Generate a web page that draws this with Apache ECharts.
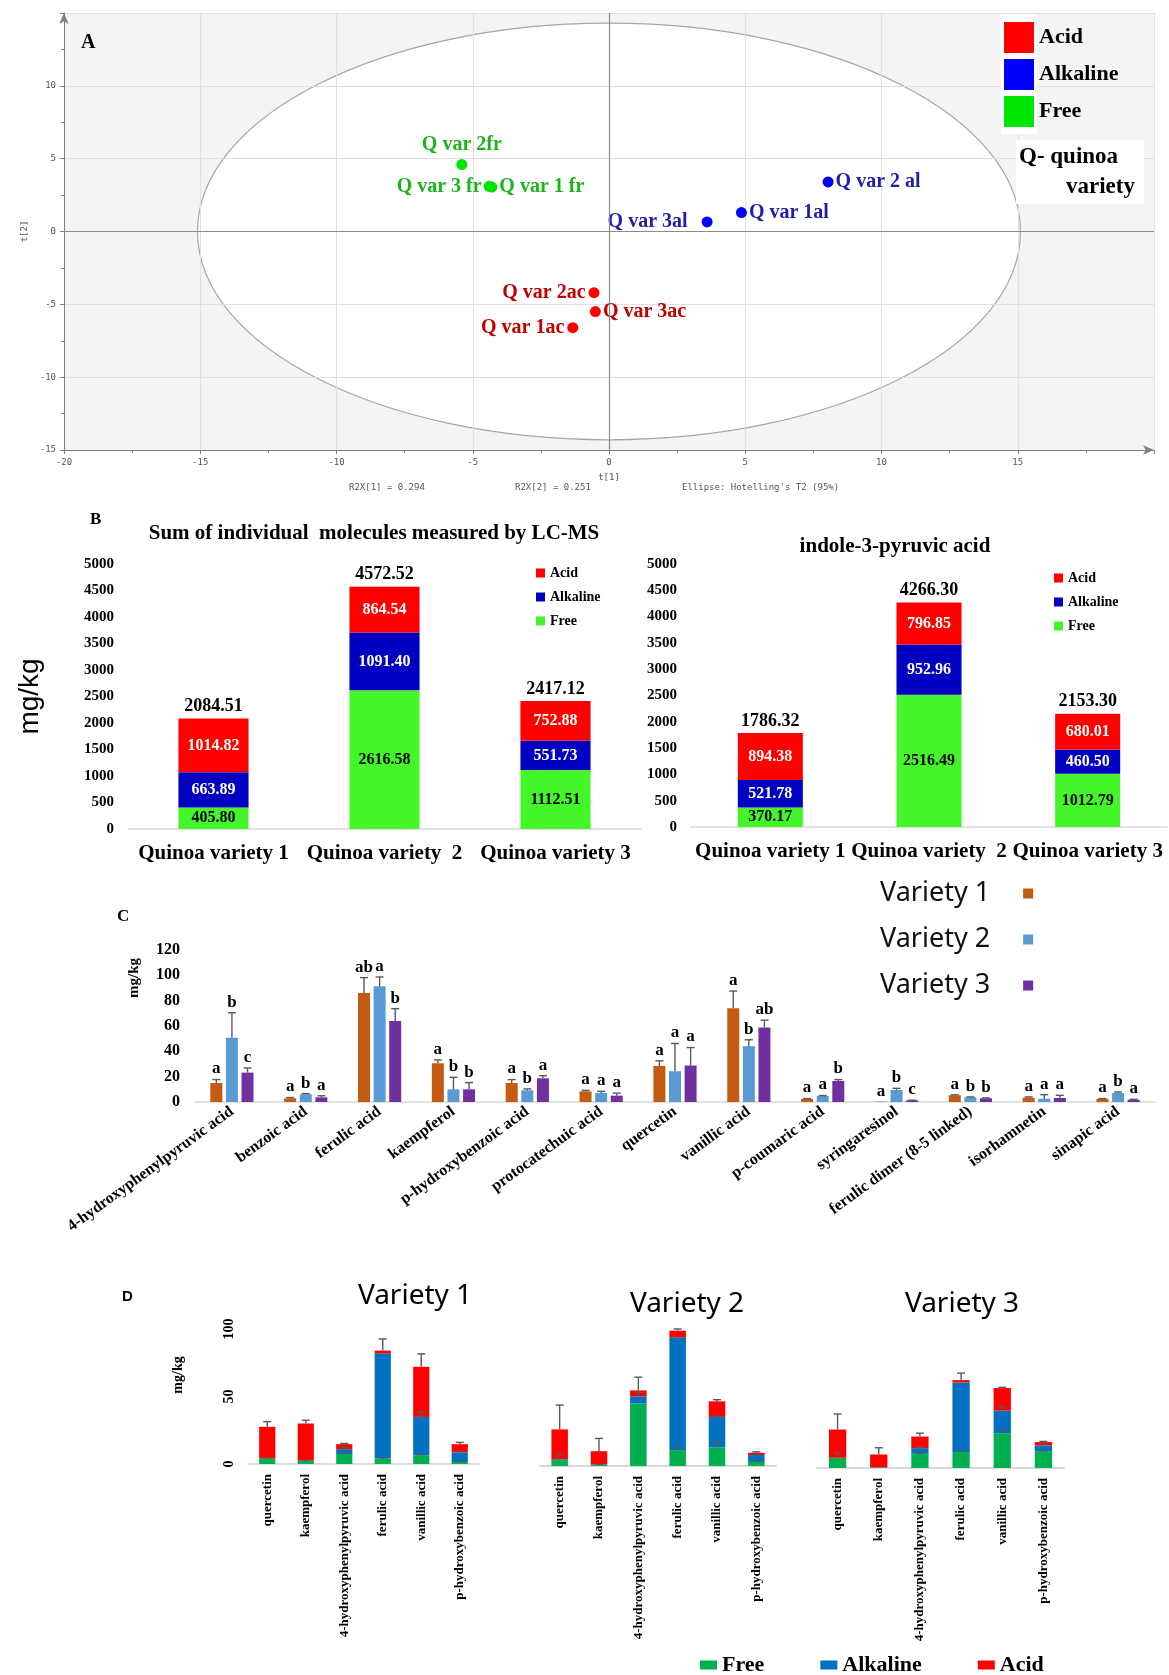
<!DOCTYPE html>
<html>
<head>
<meta charset="utf-8">
<title>Quinoa phenolics</title>
<script src="https://cdn.jsdelivr.net/npm/echarts@6/dist/echarts.min.js"></script>
<style>
  html, body { margin: 0; padding: 0; background: #fff; }
  #main { width: 1169px; height: 1675px; }
</style>
</head>
<body>
<div id="main"></div>
<script>
// ---- A: PCA scores ----
var pcaNames = ['Q var 1ac', 'Q var 2ac', 'Q var 3ac', 'Q var 1al', 'Q var 2 al', 'Q var 3al', 'Q var 1 fr', 'Q var 2fr', 'Q var 3 fr'];
var pcaGroup = ['Acid', 'Acid', 'Acid', 'Alkaline', 'Alkaline', 'Alkaline', 'Free', 'Free', 'Free'];
var pcaT1 = [-1.33, -0.55, -0.5, 4.86, 8.04, 3.6, -4.3, -5.4, -4.4];
var pcaT2 = [-6.6, -4.2, -5.5, 1.3, 3.4, 0.66, 3.05, 4.6, 3.1];
var ellipseRadii = [15.1, 14.3];

// ---- B: sums (mg/kg) ----
var varieties = ['Quinoa variety 1', 'Quinoa variety  2', 'Quinoa variety 3'];
var sumFree = [405.80, 2616.58, 1112.51];
var sumAlkaline = [663.89, 1091.40, 551.73];
var sumAcid = [1014.82, 864.54, 752.88];
var sumTotal = [2084.51, 4572.52, 2417.12];
var ipaFree = [370.17, 2516.49, 1012.79];
var ipaAlkaline = [521.78, 952.96, 460.50];
var ipaAcid = [894.38, 796.85, 680.01];
var ipaTotal = [1786.32, 4266.30, 2153.30];

// ---- C: individual compounds ----
var compounds = ['4-hydroxyphenylpyruvic acid', 'benzoic acid', 'ferulic acid', 'kaempferol', 'p-hydroxybenzoic acid',
  'protocatechuic acid', 'quercetin', 'vanillic acid', 'p-coumaric acid', 'syringaresinol',
  'ferulic dimer (8-5 linked)', 'isorhamnetin', 'sinapic acid'];
var v1Mean = [15.0, 2.9, 86.0, 30.6, 15.0, 8.4, 28.5, 74.1, 2.4, 0.3, 5.3, 3.4, 2.4];
var v1Err = [2.7, 0.6, 12.2, 2.6, 2.7, 0.8, 4.0, 13.5, 0.3, 0, 0.4, 0.6, 0.3];
var v1Letter = ['a', 'a', 'ab', 'a', 'a', 'a', 'a', 'a', 'a', 'a', 'a', 'a', 'a'];
var v2Mean = [50.7, 6.1, 91.3, 10.0, 9.2, 7.1, 24.3, 44.1, 4.7, 9.5, 3.7, 2.6, 7.1];
var v2Err = [19.8, 0.5, 7.4, 9.5, 1.1, 1.3, 21.9, 5.0, 0.4, 1.3, 0.3, 3.2, 0.8];
var v2Letter = ['b', 'b', 'a', 'b', 'b', 'a', 'a', 'b', 'a', 'b', 'b', 'a', 'b'];
var v3Mean = [23.2, 3.7, 63.9, 10.0, 18.7, 5.0, 28.8, 58.8, 16.6, 1.3, 2.9, 3.2, 1.8];
var v3Err = [3.7, 1.2, 9.8, 5.3, 2.1, 2.0, 14.2, 5.8, 1.1, 0.2, 0.4, 2.1, 0.3];
var v3Letter = ['c', 'a', 'b', 'b', 'a', 'a', 'a', 'ab', 'b', 'c', 'b', 'a', 'a'];

// ---- D: fractions per variety ----
var dCompounds = ['quercetin', 'kaempferol', '4-hydroxyphenylpyruvic acid', 'ferulic acid', 'vanillic acid', 'p-hydroxybenzoic acid'];
var d1Free = [4.0, 2.5, 7.4, 4.0, 6.4, 1.5];
var d1Alkaline = [0, 0, 3.6, 78.0, 28.5, 7.1];
var d1Acid = [23.5, 27.5, 3.7, 2.0, 37.1, 6.1];
var d1FreeErr = [0.5, 0.3, 0.5, 0.5, 0.5, 0.3];
var d1AlkalineErr = [0, 0, 1.0, 0, 3.7, 0.8];
var d1AcidErr = [3.9, 2.4, 0.5, 8.6, 9.6, 1.3];
var d2Free = [4.6, 1.0, 46.2, 11.8, 13.8, 3.0];
var d2Alkaline = [0.5, 0, 5.4, 83.5, 22.6, 5.1];
var d2Acid = [22.0, 10.0, 4.4, 4.9, 11.5, 1.7];
var d2FreeErr = [4.0, 0.3, 0, 3.0, 4.0, 0.5];
var d2AlkalineErr = [0, 0, 3.0, 0, 0.5, 0.3];
var d2AcidErr = [18.0, 9.4, 9.8, 1.3, 1.2, 0.7];
var d3Free = [7.6, 0.5, 10.6, 11.8, 25.8, 12.5];
var d3Alkaline = [0, 0, 4.1, 51.6, 16.7, 4.2];
var d3Acid = [20.9, 9.5, 8.6, 1.7, 16.7, 2.5];
var d3FreeErr = [3.4, 0, 0.5, 0.5, 3.0, 0.3];
var d3AlkalineErr = [0, 0, 0.5, 0, 3.0, 1.0];
var d3AcidErr = [11.5, 5.0, 2.5, 5.2, 0.5, 0.5];

var serif = '"Liberation Serif", "Times New Roman", serif';
var sans = '"Liberation Sans", Arial, sans-serif';
var calibri = '"Noto Sans", "Open Sans", sans-serif';
var mono = '"DejaVu Sans Mono", monospace';

// label side / gap for each PCA point (same order as pcaNames)
var pcaLabelSide = ['left', 'left', 'right', 'right', 'right', 'left', 'right', 'top', 'left'];
var pcaLabelGap = [3, 3, 2, 2, 2, 14, 2, 4, 2];
var pcaColors = { Acid: '#ff0000', Alkaline: '#0000ff', Free: '#00e600' };
var pcaTextColors = { Acid: '#c00000', Alkaline: '#1f1fa8', Free: '#1db31d' };

function legendName(name) {
  return name.split('|')[1];
}

function plainNumber(v) {
  return String(v);
}

function pcaSeries(group) {
  var data = [];
  for (var i = 0; i < pcaNames.length; i++) {
    if (pcaGroup[i] !== group) continue;
    data.push({
      name: pcaNames[i],
      value: [pcaT1[i], pcaT2[i]],
      label: { position: pcaLabelSide[i], distance: pcaLabelGap[i] }
    });
  }
  var s = {
    name: 'A|' + group, type: 'scatter', xAxisIndex: 0, yAxisIndex: 0,
    symbolSize: 11, itemStyle: { color: pcaColors[group], opacity: 1 },
    label: { show: true, formatter: '{b}', color: pcaTextColors[group], fontFamily: serif, fontWeight: 'bold', fontSize: 20 },
    data: data
  };
  if (group === 'Free') {
    s.markLine = {
      silent: true, symbol: 'none', label: { show: false },
      lineStyle: { color: '#8a8a8a', type: 'solid', width: 1.2 },
      data: [{ xAxis: 0 }, { yAxis: 0 }]
    };
  }
  return s;
}

var bColors = { Free: '#44f52a', Alkaline: '#0000c0', Acid: '#ff0000' };
var dColors = { Free: '#00b050', Alkaline: '#0070c0', Acid: '#ff0000' };

function stackSeries(prefix, gi, free, alk, acid) {
  var parts = [['Free', free, '#000'], ['Alkaline', alk, '#fff'], ['Acid', acid, '#fff']];
  return parts.map(function (p) {
    return {
      name: prefix + '|' + p[0], type: 'bar', stack: prefix, xAxisIndex: gi, yAxisIndex: gi,
      barWidth: '41%', itemStyle: { color: bColors[p[0]] }, data: p[1],
      label: {
        show: true, position: 'inside', color: p[2], fontFamily: serif, fontWeight: 'bold', fontSize: 16,
        formatter: function (q) { return q.value.toFixed(2); }
      }
    };
  });
}

function totalSeries(gi, totals) {
  return {
    type: 'custom', xAxisIndex: gi, yAxisIndex: gi, silent: true, z: 5,
    data: totals.map(function (v, i) { return [i, v]; }),
    renderItem: function (params, api) {
      var p = api.coord([api.value(0), api.value(1)]);
      return {
        type: 'text',
        style: { x: p[0], y: p[1] - 3, text: api.value(1).toFixed(2), align: 'center', verticalAlign: 'bottom', font: 'bold 18px ' + serif, fill: '#000' }
      };
    }
  };
}

// error bar (one-sided, upward) with optional letter above it
function errRender(offset, cap, letters) {
  return function (params, api) {
    var i = api.value(0), m = api.value(1), e = api.value(2);
    var base = api.coord([i, m]);
    var top = api.coord([i, m + e]);
    var x = base[0] + offset;
    var kids = [];
    if (e > 0) {
      kids.push({ type: 'line', shape: { x1: x, y1: base[1], x2: x, y2: top[1] }, style: { stroke: '#595959', lineWidth: 1.4 } });
      kids.push({ type: 'line', shape: { x1: x - cap, y1: top[1], x2: x + cap, y2: top[1] }, style: { stroke: '#595959', lineWidth: 1.4 } });
    }
    if (letters) {
      kids.push({
        type: 'text',
        style: { x: x, y: top[1] - 2, text: letters[params.dataIndex], align: 'center', verticalAlign: 'bottom', font: 'bold 17px ' + serif, fill: '#000' }
      });
    }
    return { type: 'group', children: kids };
  };
}

var cOffsets = [-15.6, 0, 15.6];
var cColors = ['#c55a11', '#5b9bd5', '#7030a0'];
var cMeans = [v1Mean, v2Mean, v3Mean];
var cErrs = [v1Err, v2Err, v3Err];
var cLetters = [v1Letter, v2Letter, v3Letter];

var cSeries = [];
for (var k = 0; k < 3; k++) {
  cSeries.push({
    name: 'Variety ' + (k + 1), type: 'bar', xAxisIndex: 3, yAxisIndex: 3,
    barWidth: 12, barGap: '30%', itemStyle: { color: cColors[k] }, data: cMeans[k]
  });
}
for (var k2 = 0; k2 < 3; k2++) {
  cSeries.push({
    name: 'C err ' + (k2 + 1), type: 'custom', xAxisIndex: 3, yAxisIndex: 3, silent: true, z: 4,
    data: cMeans[k2].map(function (m, i) { return [i, m, cErrs[k2][i]]; }),
    renderItem: errRender(cOffsets[k2], 4, cLetters[k2])
  });
}

function dSeries(gi, free, alk, acid, freeErr, alkErr, acidErr) {
  var parts = [['Free', free], ['Alkaline', alk], ['Acid', acid]];
  var out = parts.map(function (p) {
    return {
      name: 'D|' + p[0], type: 'bar', stack: 'd' + gi, xAxisIndex: gi, yAxisIndex: gi,
      barWidth: '42%', clip: false, itemStyle: { color: dColors[p[0]] }, data: p[1]
    };
  });
  var items = [];
  for (var i = 0; i < free.length; i++) {
    var t1 = free[i], t2 = t1 + alk[i], t3 = t2 + acid[i];
    if (freeErr[i] > 0) items.push([i, t1, freeErr[i]]);
    if (alkErr[i] > 0) items.push([i, t2, alkErr[i]]);
    if (acidErr[i] > 0) items.push([i, t3, acidErr[i]]);
  }
  out.push({ type: 'custom', xAxisIndex: gi, yAxisIndex: gi, silent: true, z: 5, data: items, renderItem: errRender(0, 4, null) });
  return out;
}

function catAxis(gi, data, label, lineWidth) {
  return {
    gridIndex: gi, type: 'category', data: data,
    axisLine: { lineStyle: { color: '#d9d9d9', width: lineWidth || 1.5 } },
    axisTick: { show: false }, axisLabel: label
  };
}
function valAxis(gi, max, interval, label) {
  return {
    gridIndex: gi, type: 'value', min: 0, max: max, interval: interval,
    axisLine: { show: false }, axisTick: { show: false }, splitLine: { show: false }, axisLabel: label
  };
}

var bCatLabel = { fontFamily: serif, fontWeight: 'bold', fontSize: 21, color: '#000', margin: 14, interval: 0 };
var bValLabel = { fontFamily: serif, fontWeight: 'bold', fontSize: 15, color: '#000', margin: 14, formatter: plainNumber };
var dCatLabel = { rotate: 90, interval: 0, fontFamily: serif, fontWeight: 'bold', fontSize: 13, color: '#000', margin: 10 };

var yB1 = valAxis(1, 5000, 500, bValLabel);
yB1.name = 'mg/kg';
yB1.nameLocation = 'middle';
yB1.nameGap = 84;
yB1.nameTextStyle = { fontFamily: sans, fontSize: 28, color: '#000' };

var aAxisLine = { onZero: false, lineStyle: { color: '#7f7f7f' }, symbol: ['none', 'arrow'], symbolSize: [7, 11] };
var aLabel = { fontFamily: mono, fontSize: 9, color: '#555', showMaxLabel: false };

var option = {
  animation: false,
  backgroundColor: '#fff',
  grid: [
    { left: 64, top: 13, width: 1090, height: 437 },
    { left: 128, top: 564, width: 513, height: 265 },
    { left: 691, top: 564, width: 476, height: 263 },
    { left: 195, top: 950, width: 960, height: 152 },
    { left: 248, top: 1329, width: 231, height: 135 },
    { left: 540, top: 1331, width: 236, height: 135 },
    { left: 817, top: 1333, width: 247, height: 135 }
  ],
  xAxis: [
    {
      gridIndex: 0, type: 'value', min: -20, max: 20, interval: 5,
      axisLine: aAxisLine, axisTick: { length: 4, lineStyle: { color: '#7f7f7f' } },
      minorTick: { show: true, splitNumber: 2, length: 3, lineStyle: { color: '#7f7f7f' } },
      axisLabel: aLabel, splitLine: { lineStyle: { color: '#e0e0e0' } },
      name: 't[1]', nameLocation: 'middle', nameGap: 23,
      nameTextStyle: { fontFamily: mono, fontSize: 9, color: '#555' }
    },
    catAxis(1, varieties, bCatLabel),
    catAxis(2, varieties, bCatLabel),
    catAxis(3, compounds, { rotate: 36, interval: 0, fontFamily: serif, fontWeight: 'bold', fontSize: 16, color: '#000', margin: 8 }),
    catAxis(4, dCompounds, dCatLabel, 2),
    catAxis(5, dCompounds, dCatLabel, 2),
    catAxis(6, dCompounds, dCatLabel, 2)
  ],
  yAxis: [
    {
      gridIndex: 0, type: 'value', min: -15, max: 15, interval: 5,
      axisLine: aAxisLine, axisTick: { length: 4, lineStyle: { color: '#7f7f7f' } },
      minorTick: { show: true, splitNumber: 2, length: 3, lineStyle: { color: '#7f7f7f' } },
      axisLabel: aLabel, splitLine: { lineStyle: { color: '#e0e0e0' } },
      name: 't[2]', nameLocation: 'middle', nameGap: 22,
      nameTextStyle: { fontFamily: mono, fontSize: 9, color: '#555' }
    },
    yB1,
    valAxis(2, 5000, 500, bValLabel),
    valAxis(3, 120, 20, { fontFamily: serif, fontWeight: 'bold', fontSize: 16, color: '#000', margin: 15 }),
    valAxis(4, 100, 50, { rotate: 90, fontFamily: serif, fontWeight: 'bold', fontSize: 14, color: '#000', margin: 12 }),
    valAxis(5, 100, 50, { show: false }),
    valAxis(6, 100, 50, { show: false })
  ],
  legend: [
    {
      data: ['A|Acid', 'A|Alkaline', 'A|Free'], formatter: legendName, orient: 'vertical',
      left: 1004, top: 22, icon: 'rect', itemWidth: 30, itemHeight: 31, itemGap: 6, padding: 0,
      textStyle: { fontFamily: serif, fontWeight: 'bold', fontSize: 22, color: '#000' }
    },
    {
      data: ['B1|Acid', 'B1|Alkaline', 'B1|Free'], formatter: legendName, orient: 'vertical',
      left: 536, top: 566, icon: 'rect', itemWidth: 9, itemHeight: 9, itemGap: 10, padding: 0,
      textStyle: { fontFamily: serif, fontWeight: 'bold', fontSize: 14, color: '#000' }
    },
    {
      data: ['B2|Acid', 'B2|Alkaline', 'B2|Free'], formatter: legendName, orient: 'vertical',
      left: 1054, top: 571, icon: 'rect', itemWidth: 9, itemHeight: 9, itemGap: 10, padding: 0,
      textStyle: { fontFamily: serif, fontWeight: 'bold', fontSize: 14, color: '#000' }
    },
    {
      data: ['Variety 1', 'Variety 2', 'Variety 3'], orient: 'vertical', align: 'right',
      left: 880, top: 880, icon: 'rect', itemWidth: 10, itemHeight: 10, itemGap: 19, padding: 0,
      textStyle: { fontFamily: calibri, fontSize: 27, color: '#111', padding: [0, 28, 0, 0] }
    },
    {
      data: ['D|Free', 'D|Alkaline', 'D|Acid'], formatter: legendName, orient: 'horizontal',
      left: 700, top: 1654, icon: 'rect', itemWidth: 17, itemHeight: 9, itemGap: 56, padding: 0,
      textStyle: { fontFamily: serif, fontWeight: 'bold', fontSize: 22, color: '#000' }
    }
  ],
  graphic: [
    { type: 'rect', left: 1001, top: 14, z: 1, silent: true, shape: { width: 36, height: 120 }, style: { fill: '#fff' } },
    { type: 'rect', left: 1016, top: 140, z: 1, silent: true, shape: { width: 128, height: 64 }, style: { fill: '#fff' } },
    { type: 'text', left: 81, top: 33, z: 2, style: { text: 'A', font: 'bold 20px ' + serif, fill: '#000' } },
    { type: 'text', left: 1019, top: 146, z: 2, style: { text: 'Q- quinoa', font: 'bold 23px ' + serif, fill: '#000' } },
    { type: 'text', left: 1066, top: 176, z: 2, style: { text: 'variety', font: 'bold 23px ' + serif, fill: '#000' } },
    { type: 'text', left: 349, top: 483, style: { text: 'R2X[1] = 0.294', font: '9px ' + mono, fill: '#555' } },
    { type: 'text', left: 515, top: 483, style: { text: 'R2X[2] = 0.251', font: '9px ' + mono, fill: '#555' } },
    { type: 'text', left: 682, top: 483, style: { text: "Ellipse: Hotelling's T2 (95%)", font: '9px ' + mono, fill: '#555' } },
    { type: 'text', left: 90, top: 511, style: { text: 'B', font: 'bold 17px ' + serif, fill: '#000' } },
    { type: 'text', x: 374, y: 534, style: { text: 'Sum of individual  molecules measured by LC-MS', align: 'center', verticalAlign: 'middle', font: 'bold 21px ' + serif, fill: '#000' } },
    { type: 'text', x: 895, y: 547, style: { text: 'indole-3-pyruvic acid', align: 'center', verticalAlign: 'middle', font: 'bold 21px ' + serif, fill: '#000' } },
    { type: 'text', left: 117, top: 908, style: { text: 'C', font: 'bold 17px ' + serif, fill: '#000' } },
    { type: 'text', x: 134, y: 978, rotation: Math.PI / 2, style: { text: 'mg/kg', align: 'center', verticalAlign: 'middle', font: 'bold 15px ' + serif, fill: '#000' } },
    { type: 'text', left: 122, top: 1289, style: { text: 'D', font: 'bold 15px ' + sans, fill: '#000' } },
    { type: 'text', x: 415, y: 1296, style: { text: 'Variety 1', align: 'center', verticalAlign: 'middle', font: '28px ' + calibri, fill: '#000' } },
    { type: 'text', x: 687, y: 1304, style: { text: 'Variety 2', align: 'center', verticalAlign: 'middle', font: '28px ' + calibri, fill: '#000' } },
    { type: 'text', x: 962, y: 1304, style: { text: 'Variety 3', align: 'center', verticalAlign: 'middle', font: '28px ' + calibri, fill: '#000' } },
    { type: 'text', x: 178, y: 1375, rotation: Math.PI / 2, style: { text: 'mg/kg', align: 'center', verticalAlign: 'middle', font: 'bold 14px ' + serif, fill: '#000' } }
  ],
  series: [
    {
      type: 'custom', xAxisIndex: 0, yAxisIndex: 0, silent: true, z: -1,
      data: [[0, 0, ellipseRadii[0], ellipseRadii[1]]],
      renderItem: function (params, api) {
        var c = api.coord([api.value(0), api.value(1)]);
        var s = api.size([api.value(2), api.value(3)]);
        var cs = params.coordSys;
        return {
          type: 'group', children: [
            { type: 'rect', shape: { x: cs.x, y: cs.y, width: cs.width, height: cs.height }, style: { fill: '#f4f4f4' } },
            { type: 'ellipse', shape: { cx: c[0], cy: c[1], rx: s[0], ry: s[1] }, style: { fill: '#fff', stroke: '#a6a6a6', lineWidth: 1.2 } }
          ]
        };
      }
    },
    pcaSeries('Acid'),
    pcaSeries('Alkaline'),
    pcaSeries('Free')
  ]
    .concat(stackSeries('B1', 1, sumFree, sumAlkaline, sumAcid))
    .concat([totalSeries(1, sumTotal)])
    .concat(stackSeries('B2', 2, ipaFree, ipaAlkaline, ipaAcid))
    .concat([totalSeries(2, ipaTotal)])
    .concat(cSeries)
    .concat(dSeries(4, d1Free, d1Alkaline, d1Acid, d1FreeErr, d1AlkalineErr, d1AcidErr))
    .concat(dSeries(5, d2Free, d2Alkaline, d2Acid, d2FreeErr, d2AlkalineErr, d2AcidErr))
    .concat(dSeries(6, d3Free, d3Alkaline, d3Acid, d3FreeErr, d3AlkalineErr, d3AcidErr))
};

var myChart = echarts.init(document.getElementById('main'));
myChart.setOption(option);
</script>
</body>
</html>
